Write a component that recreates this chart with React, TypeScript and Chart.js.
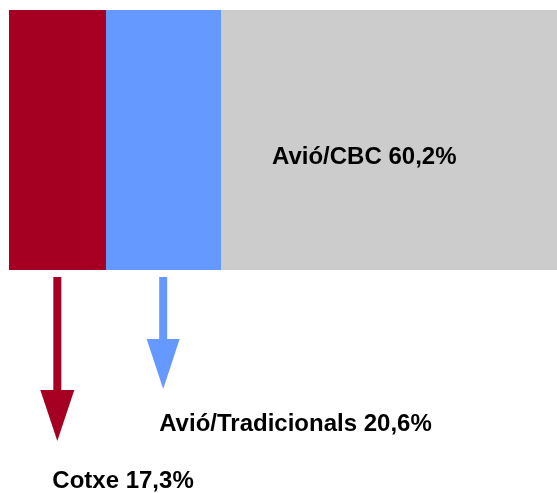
import React, { useEffect, useRef } from "react";
import { Chart, registerables } from "chart.js";
Chart.register(...registerables);

const categories = ["Desplaçament"];
const seriesNames = ["Cotxe", "Avió/Tradicionals", "Avió/CBC"];
const seriesValues = [17.3, 20.6, 60.2];
const seriesColors = ["#A50021", "#6699FF", "#CCCCCC"];
const labelTexts = ["Cotxe 17,3%", "Avió/Tradicionals 20,6%", "Avió/CBC 60,2%"];

const total = seriesValues.reduce((a, b) => a + b, 0);

function drawArrow(ctx: CanvasRenderingContext2D, cx: number, y0: number, headTop: number, tip: number, shaftW: number, headW: number, color: string) {
  ctx.save();
  ctx.fillStyle = color;
  ctx.fillRect(cx - shaftW / 2, y0, shaftW, headTop - y0 + 1);
  ctx.beginPath();
  ctx.moveTo(cx - headW / 2, headTop);
  ctx.lineTo(cx + headW / 2, headTop);
  ctx.lineTo(cx, tip);
  ctx.closePath();
  ctx.fill();
  ctx.restore();
}

const annotPlugin = {
  id: "annot",
  afterDatasetsDraw(chart: any) {
    const ctx: CanvasRenderingContext2D = chart.ctx;
    const area = chart.chartArea;
    const segs = chart.data.datasets.map((_ds: any, i: number) => {
      const el = chart.getDatasetMeta(i).data[0];
      const p = el.getProps(["x", "base", "y", "height"], true);
      return {
        left: Math.min(p.x, p.base),
        right: Math.max(p.x, p.base),
        top: p.y - p.height / 2,
        bottom: p.y + p.height / 2,
        mid: p.y,
      };
    });
    const s0 = segs[0], s1 = segs[1], s2 = segs[2];
    const c0 = (s0.left + s0.right) / 2;
    const c1 = (s1.left + s1.right) / 2;
    drawArrow(ctx, c0, s0.bottom + 7, s0.bottom + 120, s0.bottom + 171, 8, 34, seriesColors[0]);
    drawArrow(ctx, c1, s1.bottom + 7, s1.bottom + 69, s1.bottom + 119, 8, 33, seriesColors[1]);

    ctx.save();
    ctx.fillStyle = "#000";
    ctx.font = "bold 24px 'Liberation Sans', Arial, sans-serif";
    ctx.textAlign = "left";
    ctx.textBaseline = "alphabetic";
    ctx.fillText(labelTexts[2], area.right - 285, s2.mid + 24);
    ctx.fillText(labelTexts[1], c1 - 4, s1.bottom + 161);
    ctx.fillText(labelTexts[0], c0 - 5, s0.bottom + 218);
    ctx.restore();
  },
};

export default function App() {
  const ref = useRef<HTMLCanvasElement>(null);
  useEffect(() => {
    if (!ref.current) return;
    const chart = new Chart(ref.current, {
      type: "bar",
      data: {
        labels: categories,
        datasets: seriesNames.map((n, i) => ({
          label: n,
          data: [seriesValues[i]],
          backgroundColor: seriesColors[i],
          borderWidth: 0,
          barPercentage: 1,
          categoryPercentage: 1,
        })),
      },
      options: {
        indexAxis: "y",
        responsive: false,
        animation: false,
        layout: { padding: { left: 9, right: 0, top: 10, bottom: 223 } },
        scales: {
          x: { stacked: true, display: false, min: 0, max: total },
          y: { stacked: true, display: false },
        },
        plugins: { legend: { display: false }, tooltip: { enabled: false } },
      },
      plugins: [annotPlugin],
    } as any);
    return () => chart.destroy();
  }, []);
  return (
    <div style={{ position: "absolute", left: 0, top: 0, width: 557, height: 493, background: "#fff" }}>
      <canvas ref={ref} width={557} height={493} style={{ display: "block" }} />
    </div>
  );
}
